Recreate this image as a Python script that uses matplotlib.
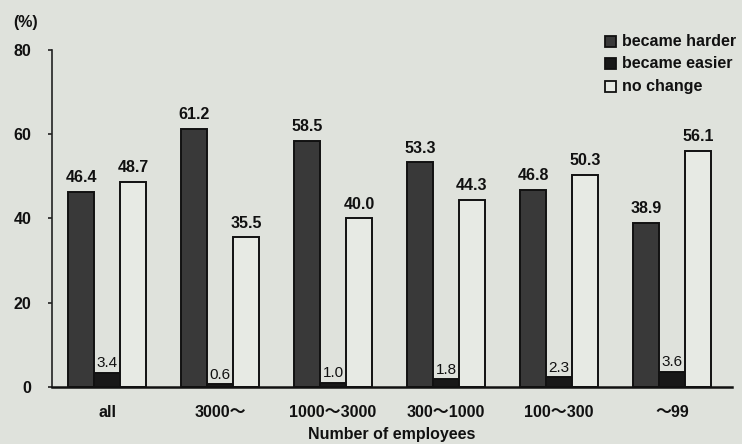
import matplotlib
matplotlib.use("Agg")
import matplotlib.pyplot as plt
from matplotlib.patches import Rectangle
import numpy as np

plt.rcParams['font.family'] = ['Liberation Sans', 'Noto Sans CJK JP', 'DejaVu Sans']

# Survey data: change in difficulty by company size (number of employees)
categories = ["all", "3000～", "1000～3000", "300～1000", "100～300", "～99"]
series_names = ["became harder", "became easier", "no change"]
became_harder = [46.4, 61.2, 58.5, 53.3, 46.8, 38.9]
became_easier = [3.4, 0.6, 1.0, 1.8, 2.3, 3.6]
no_change = [48.7, 35.5, 40.0, 44.3, 50.3, 56.1]
y_ticks = [0, 20, 40, 60, 80]

bg = "#dfe2dc"
face_colors = ["#393939", "#181818", "#e7eae4"]

W, H = 742, 444
fig = plt.figure(figsize=(W / 100, H / 100), dpi=100, facecolor=bg)
ax = fig.add_axes([52 / W, 1 - 387 / H, 680 / W, (387 - 50) / H])
ax.set_facecolor(bg)

x = np.arange(len(categories))
w = 0.23
offsets = [-w, 0.0, w]
values = [became_harder, became_easier, no_change]

for vals, off, fc in zip(values, offsets, face_colors):
    ax.bar(x + off, vals, width=w, color=fc, edgecolor="#111111",
           linewidth=1.4, zorder=2)

# value labels above each bar
for vals, off, idx in zip(values, offsets, range(3)):
    for xi, v in zip(x, vals):
        if idx == 1:
            ax.annotate(f"{v:.1f}", (xi + off, v), xytext=(0, 2),
                        textcoords="offset points", ha="center", va="bottom",
                        fontsize=11, color="#111111", zorder=3)
        else:
            ax.annotate(f"{v:.1f}", (xi + off, v), xytext=(0, 5),
                        textcoords="offset points", ha="center", va="bottom",
                        fontsize=11.5, fontweight="bold", color="#111111",
                        zorder=3)

ax.set_ylim(0, 80)
ax.set_xlim(-0.487, 5.531)
ax.set_yticks(y_ticks)
ax.set_yticklabels([str(t) for t in y_ticks], fontsize=11.5, fontweight="bold")
ax.set_xticks(x)
ax.set_xticklabels(categories, fontsize=11.5, fontweight="bold")
ax.tick_params(axis="y", direction="out", length=3, width=1.1, pad=12,
               colors="#111111")
ax.tick_params(axis="x", length=0, pad=13, colors="#111111")

for s in ["top", "right"]:
    ax.spines[s].set_visible(False)
ax.spines["left"].set_linewidth(1.2)
ax.spines["left"].set_color("#222222")
ax.spines["bottom"].set_linewidth(1.8)
ax.spines["bottom"].set_color("#111111")

fig.text(26 / W, 1 - 23 / H, "(%)", fontsize=11.5, fontweight="bold",
         ha="center", va="center", color="#111111")
fig.text(392 / W, 1 - 434 / H, "Number of employees", fontsize=11.5,
         fontweight="bold", ha="center", va="center", color="#111111")

# legend
rows_y = [42, 64, 86]
for name, fc, ry in zip(series_names, face_colors, rows_y):
    fig.patches.append(Rectangle((605 / W, 1 - (ry + 5.5) / H), 11 / W, 11 / H,
                                 transform=fig.transFigure, facecolor=fc,
                                 edgecolor="#111111", linewidth=1.3))
    fig.text(622 / W, 1 - ry / H, name, fontsize=11.5, fontweight="bold",
             ha="left", va="center", color="#111111")

fig.savefig("out.png", dpi=100, facecolor=bg)
